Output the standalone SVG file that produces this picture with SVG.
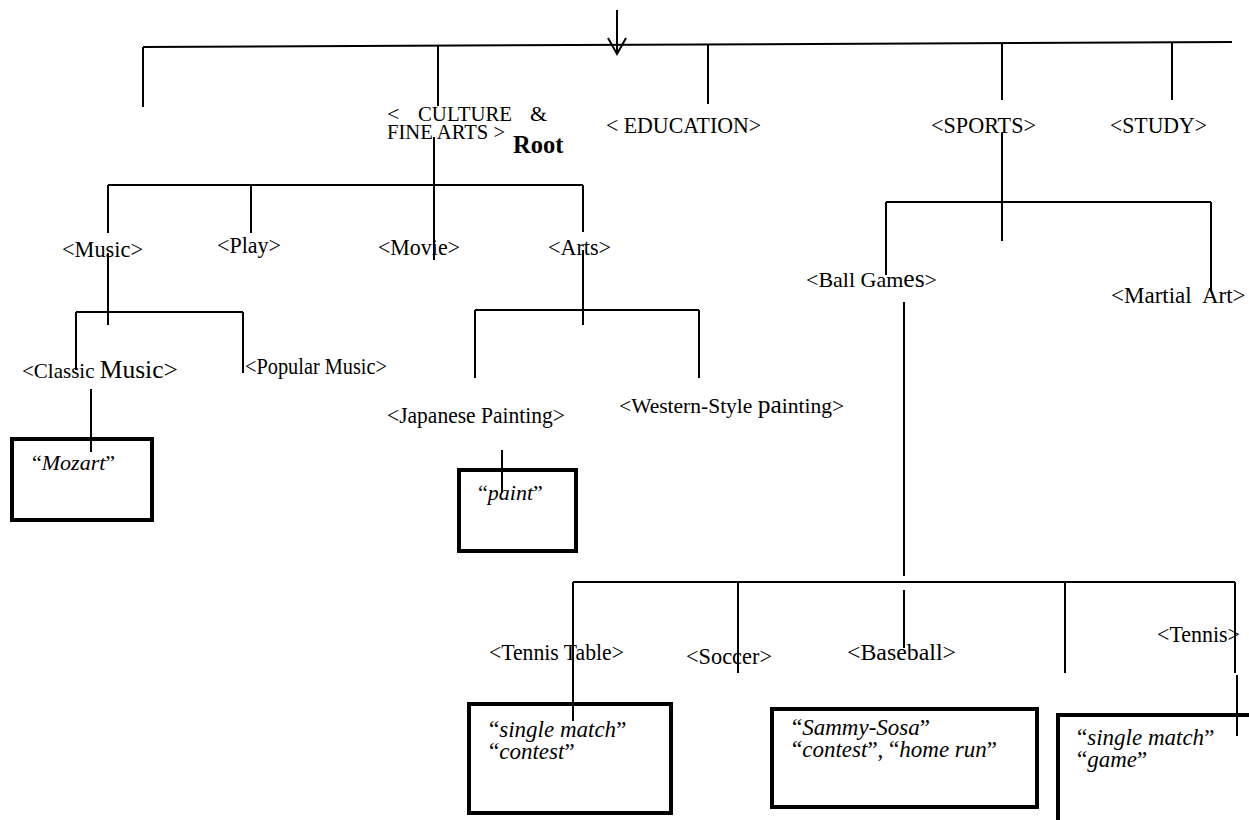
<svg xmlns="http://www.w3.org/2000/svg" width="1249" height="820" viewBox="0 0 1249 820">
<style>
 text { font-family: "Liberation Serif", "DejaVu Serif", serif; font-size: 23.5px; fill: #000; }
 .it { font-style: italic; }
 .big { font-size: 23px; }
 .conn line, .conn polyline { stroke: #000; stroke-width: 2; fill: none; }
 .box { fill: none; stroke: #000; stroke-width: 4; }
</style>
<rect width="1249" height="820" fill="#fff"/>
<g id="connectors" class="conn">
  <line x1="617" y1="10" x2="617" y2="54"/>
  <polyline points="608,38 617,54 626,38"/>
  <line x1="143" y1="47" x2="1232" y2="42"/>
  <line x1="143" y1="47" x2="143" y2="107"/>
  <line x1="438" y1="46" x2="438" y2="106"/>
  <line x1="708" y1="45" x2="708" y2="104"/>
  <line x1="1002" y1="44" x2="1002" y2="100"/>
  <line x1="1172" y1="43" x2="1172" y2="100"/>
  <line x1="108" y1="185" x2="583" y2="185"/>
  <line x1="108" y1="185" x2="108" y2="233"/>
  <line x1="108" y1="253" x2="108" y2="325"/>
  <line x1="251" y1="185" x2="251" y2="233"/>
  <line x1="434" y1="137" x2="434" y2="260"/>
  <line x1="583" y1="185" x2="583" y2="232"/>
  <line x1="583" y1="250" x2="583" y2="325"/>
  <line x1="76" y1="312" x2="243" y2="312"/>
  <line x1="76" y1="312" x2="76" y2="370"/>
  <line x1="243" y1="312" x2="243" y2="373"/>
  <line x1="91" y1="389" x2="91" y2="452"/>
  <line x1="475" y1="310" x2="699" y2="310"/>
  <line x1="475" y1="310" x2="475" y2="378"/>
  <line x1="699" y1="310" x2="699" y2="378"/>
  <line x1="502" y1="450" x2="502" y2="493"/>
  <line x1="1002" y1="133" x2="1002" y2="241"/>
  <line x1="886" y1="202" x2="1211" y2="202"/>
  <line x1="886" y1="202" x2="886" y2="275"/>
  <line x1="1211" y1="202" x2="1211" y2="292"/>
  <line x1="904" y1="302" x2="904" y2="576"/>
  <line x1="573" y1="582" x2="1235" y2="582"/>
  <line x1="573" y1="582" x2="573" y2="721"/>
  <line x1="738" y1="582" x2="738" y2="673"/>
  <line x1="904" y1="590" x2="904" y2="648"/>
  <line x1="1065" y1="582" x2="1065" y2="673"/>
  <line x1="1235" y1="582" x2="1235" y2="673"/>
  <line x1="1237" y1="675" x2="1237" y2="736"/>
</g>
<g id="culture">
  <text y="121" style="font-size:22px"><tspan x="387">&lt;</tspan><tspan x="418" textLength="94" lengthAdjust="spacingAndGlyphs">CULTURE</tspan><tspan x="530">&amp;</tspan></text>
  <text y="139" style="font-size:22px"><tspan x="387" textLength="118" lengthAdjust="spacingAndGlyphs">FINE ARTS &gt;</tspan></text>
  <text x="513" y="153" font-weight="bold" style="font-size:24.5px">Root</text>
</g>
<g id="education"><text x="606" y="133" textLength="155" lengthAdjust="spacingAndGlyphs">&lt; EDUCATION&gt;</text></g>
<g id="sports"><text x="931" y="133" textLength="105" lengthAdjust="spacingAndGlyphs">&lt;SPORTS&gt;</text></g>
<g id="study"><text x="1110" y="133" textLength="97" lengthAdjust="spacingAndGlyphs">&lt;STUDY&gt;</text></g>
<g id="music"><text x="62" y="257" textLength="81" lengthAdjust="spacingAndGlyphs">&lt;Music&gt;</text></g>
<g id="play"><text x="217" y="253" textLength="64" lengthAdjust="spacingAndGlyphs">&lt;Play&gt;</text></g>
<g id="movie"><text x="378" y="255" textLength="82" lengthAdjust="spacingAndGlyphs">&lt;Movie&gt;</text></g>
<g id="arts"><text x="548" y="255" textLength="63" lengthAdjust="spacingAndGlyphs">&lt;Arts&gt;</text></g>
<g id="classic-music"><text x="22" y="378" style="font-size:21px">&lt;Classic <tspan style="font-size:25.5px">Music&gt;</tspan></text></g>
<g id="popular-music"><text x="245" y="374" textLength="142" lengthAdjust="spacingAndGlyphs">&lt;Popular Music&gt;</text></g>
<g id="japanese-painting"><text x="387" y="423" textLength="178" lengthAdjust="spacingAndGlyphs">&lt;Japanese Painting&gt;</text></g>
<g id="western-painting"><text x="619" y="413" style="font-size:21.5px">&lt;Western-Style <tspan style="font-size:25.5px">pa</tspan>inting&gt;</text></g>
<g id="ball-games"><text x="806" y="287" style="font-size:22px">&lt;Ball Gam<tspan style="font-size:25.5px">es</tspan>&gt;</text></g>
<g id="martial-art"><text x="1111" y="303" style="font-size:23px;white-space:pre">&lt;Martial  Art&gt;</text></g>
<g id="tennis-table"><text x="489" y="660" textLength="135" lengthAdjust="spacingAndGlyphs">&lt;Tennis Table&gt;</text></g>
<g id="soccer"><text x="686" y="664" textLength="86" lengthAdjust="spacingAndGlyphs">&lt;Soccer&gt;</text></g>
<g id="baseball"><text x="847" y="660" textLength="109" lengthAdjust="spacingAndGlyphs">&lt;Baseball&gt;</text></g>
<g id="tennis"><text x="1157" y="642" textLength="83" lengthAdjust="spacingAndGlyphs">&lt;Tennis&gt;</text></g>
<g id="mozart-box">
  <rect class="box" x="12" y="439" width="140" height="81"/>
  <text x="32" y="470" style="font-size:22px">“<tspan class="it">Mozart</tspan>”</text>
</g>
<g id="paint-box">
  <rect class="box" x="459" y="470" width="117" height="81"/>
  <text x="478" y="500" style="font-size:22px">“<tspan class="it">paint</tspan>”</text>
</g>
<g id="tennis-table-box">
  <rect class="box" x="469" y="704" width="202" height="109"/>
  <text class="big" x="489" y="737">“<tspan class="it">single match</tspan>”</text>
  <text class="big" x="489" y="759">“<tspan class="it">contest</tspan>”</text>
</g>
<g id="baseball-box">
  <rect class="box" x="772" y="709" width="265" height="98"/>
  <text class="big" x="792" y="735">“<tspan class="it">Sammy-Sosa</tspan>”</text>
  <text class="big" x="792" y="757">“<tspan class="it">contest</tspan>”, “<tspan class="it">home run</tspan>”</text>
</g>
<g id="tennis-box">
  <polyline class="box" points="1058,822 1058,715 1251,715"/>
  <text class="big" x="1077" y="745">“<tspan class="it">single match</tspan>”</text>
  <text class="big" x="1077" y="767">“<tspan class="it">game</tspan>”</text>
</g>
</svg>
